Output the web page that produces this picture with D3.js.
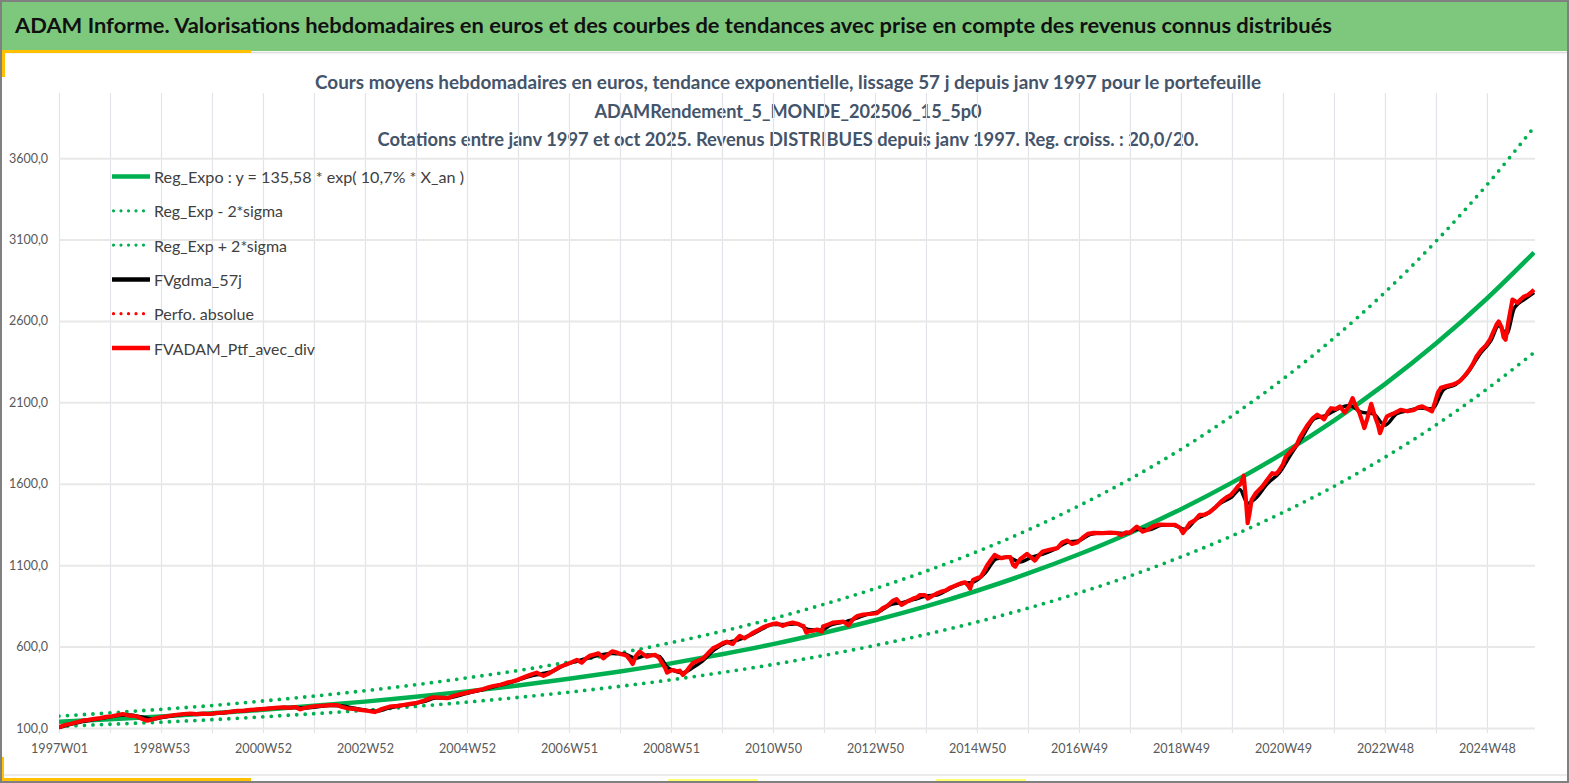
<!DOCTYPE html>
<html>
<head>
<meta charset="utf-8">
<script src="https://cdn.jsdelivr.net/npm/d3@7"></script>
<style>
  body { margin: 0; background: #fff; }
  svg { display: block; font-family: Lato, "Open Sans", sans-serif; }
</style>
</head>
<body>
<svg id="chart" width="1569" height="783"></svg>
<script>
// ---- textes
const titre = "ADAM Informe. Valorisations hebdomadaires en euros et des courbes de tendances avec prise en compte des revenus connus distribués";
const sousTitres = [
  "Cours moyens hebdomadaires  en euros, tendance exponentielle, lissage 57 j depuis janv 1997 pour le portefeuille",
  "ADAMRendement_5_MONDE_202506_15_5p0",
  "Cotations  entre janv 1997 et oct 2025. Revenus DISTRIBUES depuis janv 1997. Reg. croiss. : 20,0/20."
];
const legendeLabels = [
  "Reg_Expo : y = 135,58 * exp( 10,7% *  X_an )",
  "Reg_Exp - 2*sigma",
  "Reg_Exp + 2*sigma",
  "FVgdma_57j",
  "Perfo. absolue",
  "FVADAM_Ptf_avec_div"
];

// ---- axes
const xTickLabels = ["1997W01","1998W53","2000W52","2002W52","2004W52","2006W51","2008W51",
  "2010W50","2012W50","2014W50","2016W49","2018W49","2020W49","2022W48","2024W48"];
const yTicks = [100, 600, 1100, 1600, 2100, 2600, 3100, 3600];

// ---- courbes de tendance (index de semaine, valeurs lues)
const semainesTendance = [0,52,104,156,208,260,312,364,416,468,520,572,624,676,728,780,832,884,
  936,988,1040,1092,1144,1196,1248,1300,1352,1404,1456,1504];
const regExpo = [138,154,171,190,212,236,262,292,325,361,402,447,497,553,615,685,762,847,
  943,1049,1167,1298,1444,1607,1787,1988,2212,2461,2738,3020];
const regExpMoins = [110,123,136,151,169,188,209,233,259,288,320,356,396,441,490,546,607,675,
  751,836,930,1034,1151,1280,1424,1584,1763,1961,2182,2406];
const regExpPlus = [173,193,215,238,266,296,329,366,408,453,505,561,624,694,772,860,956,1063,
  1183,1316,1465,1629,1812,2017,2243,2495,2776,3089,3436,3790];

// ---- FVADAM_Ptf_avec_div : [semaine, valeur]
const fvAdam = [[0,105],[6,118],[12,126],[18,135],[24,145],[30,150],[36,156],[42,161],[48,168],[54,172],
  [60,180],[65,186],[70,178],[75,175],[79,172],[84,158],[90,145],[96,155],[103,166],[110,172],[118,180],
  [127,186],[134,189],[140,185],[147,188],[154,186],[160,192],[168,194],[175,200],[182,205],[189,207],
  [195,211],[202,214],[210,218],[218,222],[224,226],[229,227],[235,224],[241,229],[246,215],[252,226],
  [258,231],[263,235],[270,238],[277,240],[283,241],[288,230],[294,221],[300,218],[307,211],[314,206],
  [320,200],[322,198],[330,218],[337,231],[345,236],[352,242],[358,248],[365,255],[372,268],[377,280],
  [381,289],[388,286],[396,283],[402,297],[409,308],[416,317],[424,328],[432,338],[438,350],[443,358],
  [450,366],[456,377],[462,386],[467,395],[474,412],[480,425],[487,440],[491,428],[494,420],[500,436],
  [505,455],[511,477],[518,492],[523,505],[528,518],[533,501],[537,525],[541,543],[546,552],[550,559],
  [555,528],[560,552],[564,571],[568,565],[572,555],[576,550],[579,543],[582,520],[585,493],[588,540],
  [592,569],[596,552],[599,538],[604,545],[608,549],[612,530],[615,498],[618,470],[620,440],[623,450],
  [626,456],[630,448],[633,452],[636,426],[640,450],[643,475],[646,498],[651,512],[657,528],[662,560],
  [667,590],[672,605],[677,622],[681,630],[684,622],[687,616],[690,640],[694,665],[699,651],[704,670],
  [708,686],[713,702],[718,719],[722,728],[727,738],[732,743],[735,735],[738,727],[743,740],[748,747],
  [753,740],[757,730],[759,727],[762,686],[765,695],[769,698],[773,705],[778,692],[779,723],[784,735],
  [789,747],[795,750],[800,753],[805,731],[810,770],[814,788],[820,797],[827,800],[834,805],[840,836],
  [845,852],[850,880],[854,891],[859,856],[863,870],[866,880],[871,895],[875,903],[878,917],[883,917],
  [886,895],[890,910],[895,926],[900,938],[904,945],[908,960],[912,970],[916,980],[920,990],[924,995],
  [927,975],[929,955],[932,1010],[936,1020],[940,1030],[943,1060],[946,1095],[950,1130],[954,1163],
  [958,1150],[961,1143],[966,1150],[970,1149],[973,1100],[975,1091],[978,1120],[980,1137],[984,1155],
  [987,1169],[991,1150],[995,1128],[999,1160],[1003,1184],[1010,1195],[1018,1205],[1023,1240],[1028,1251],
  [1033,1230],[1038,1239],[1044,1270],[1049,1292],[1055,1298],[1064,1297],[1072,1300],[1079,1297],
  [1083,1285],[1088,1302],[1092,1300],[1099,1337],[1105,1306],[1110,1318],[1116,1340],[1122,1350],
  [1130,1348],[1138,1348],[1143,1330],[1146,1297],[1150,1330],[1153,1358],[1158,1375],[1163,1409],
  [1168,1410],[1173,1425],[1180,1460],[1185,1491],[1190,1515],[1195,1532],[1199,1560],[1202,1583],
  [1205,1600],[1208,1649],[1210,1520],[1212,1358],[1214,1420],[1216,1501],[1220,1540],[1227,1583],
  [1232,1625],[1237,1665],[1241,1660],[1244,1681],[1248,1720],[1251,1767],[1256,1800],[1262,1839],
  [1265,1880],[1268,1911],[1273,1960],[1278,2000],[1283,2024],[1287,2010],[1290,1996],[1294,2040],
  [1297,2064],[1302,2060],[1306,2075],[1311,2038],[1315,2070],[1319,2126],[1322,2080],[1326,2034],
  [1329,1980],[1331,1942],[1334,2000],[1338,2091],[1342,2010],[1345,1960],[1347,1911],[1350,1960],
  [1354,2014],[1360,2030],[1368,2054],[1375,2045],[1382,2054],[1386,2070],[1390,2075],[1395,2060],
  [1400,2045],[1403,2100],[1406,2160],[1409,2189],[1415,2200],[1421,2209],[1425,2220],[1428,2229],
  [1433,2260],[1438,2300],[1442,2340],[1445,2378],[1450,2420],[1455,2450],[1459,2485],[1463,2540],
  [1466,2580],[1468,2597],[1471,2560],[1473,2500],[1475,2485],[1478,2600],[1482,2731],[1485,2720],
  [1487,2711],[1490,2730],[1494,2751],[1498,2760],[1501,2775],[1504,2792]];

// ---- FVgdma_57j (moyenne lissée) : [semaine, valeur]
const fvGdma = [[0,102],[12,122],[24,140],[36,152],[48,164],[60,176],[72,180],[84,168],[96,155],[108,168],
  [120,178],[132,186],[144,187],[156,188],[168,193],[180,203],[192,208],[204,215],[216,221],[228,226],
  [240,226],[252,223],[264,231],[276,238],[288,236],[300,223],[312,210],[324,203],[336,222],[348,236],
  [360,248],[372,262],[384,284],[396,285],[408,300],[420,320],[432,335],[444,355],[456,373],[468,393],
  [480,418],[492,432],[504,450],[516,488],[528,510],[540,530],[552,548],[564,558],[576,556],[588,528],
  [600,548],[612,540],[620,475],[628,450],[636,440],[646,470],[656,510],[668,580],[680,622],[692,640],
  [704,668],[716,705],[728,735],[740,735],[752,740],[764,705],[776,700],[788,735],[800,750],[812,772],
  [824,798],[836,815],[848,858],[860,870],[872,890],[884,910],[896,918],[908,955],[920,985],[932,995],
  [944,1050],[956,1140],[968,1148],[980,1120],[992,1150],[1004,1170],[1016,1200],[1028,1240],[1040,1250],
  [1052,1290],[1064,1297],[1076,1298],[1088,1295],[1100,1320],[1112,1318],[1124,1345],[1136,1346],
  [1148,1320],[1160,1385],[1172,1420],[1184,1480],[1196,1520],[1204,1565],[1212,1480],[1220,1510],
  [1232,1600],[1244,1665],[1256,1780],[1268,1890],[1280,2000],[1292,2020],[1304,2060],[1316,2080],
  [1328,2040],[1340,2030],[1352,1960],[1364,2030],[1376,2050],[1388,2065],[1400,2060],[1412,2180],
  [1424,2210],[1436,2280],[1448,2390],[1460,2480],[1468,2570],[1476,2520],[1484,2680],[1496,2740],
  [1504,2775]];

// ---- mise en page
const W = 1569, H = 783;
const plot = { left: 59, right: 1535, top: 93, bottom: 728 };
const VERT = "#00B050", ROUGE = "#FF0000", NOIR = "#000000";

const svg = d3.select("#chart");

const x = d3.scaleLinear().domain([0, 1505]).range([plot.left, plot.right]);
const y = d3.scaleLinear().domain([100, 4000]).range([plot.bottom, plot.top]);

// fond + bandeau titre
svg.append("rect").attr("width", W).attr("height", H).attr("fill", "#fff");
svg.append("rect").attr("x", 0).attr("y", 0).attr("width", W).attr("height", 51).attr("fill", "#7ec87e");
svg.append("line").attr("x1", 0).attr("x2", W).attr("y1", 52.5).attr("y2", 52.5)
  .attr("stroke", "#dcdcdc").attr("stroke-width", 1.5);
svg.append("line").attr("x1", 0).attr("x2", W).attr("y1", 775).attr("y2", 775)
  .attr("stroke", "#e4e4e4").attr("stroke-width", 1.5);

// accents jaunes
const jaune = svg.append("g").attr("fill", "#FFC000");
jaune.append("rect").attr("x", 0).attr("y", 50).attr("width", 251).attr("height", 3);
jaune.append("rect").attr("x", 0).attr("y", 50).attr("width", 5).attr("height", 27);
jaune.append("rect").attr("x", 0).attr("y", 757).attr("width", 4).attr("height", 26);
jaune.append("rect").attr("x", 0).attr("y", 778).attr("width", 251).attr("height", 5);
svg.append("rect").attr("x", 668).attr("y", 779).attr("width", 90).attr("height", 4).attr("fill", "#ffff70");
svg.append("rect").attr("x", 936).attr("y", 779).attr("width", 90).attr("height", 4).attr("fill", "#ffff70");

// cadre
svg.append("rect").attr("x", 1).attr("y", 1).attr("width", W - 2).attr("height", H - 2)
  .attr("fill", "none").attr("stroke", "#808080").attr("stroke-width", 2);

// titre
svg.append("text").attr("x", 15).attr("y", 33)
  .attr("font-size", 21).attr("font-weight", "bold").attr("fill", "#111")
  .attr("textLength", 1317).attr("lengthAdjust", "spacingAndGlyphs")
  .text(titre);

// sous-titres
const sousTitreLayout = [{ y: 88.5, w: 946 }, { y: 118, w: 387 }, { y: 146.3, w: 821 }];
svg.selectAll(".sous-titre").data(sousTitres).enter().append("text")
  .attr("class", "sous-titre")
  .attr("x", 788).attr("y", (d, i) => sousTitreLayout[i].y)
  .attr("text-anchor", "middle").attr("font-size", 18).attr("font-weight", "bold")
  .attr("fill", "#44546A")
  .attr("textLength", (d, i) => sousTitreLayout[i].w).attr("lengthAdjust", "spacingAndGlyphs")
  .text(d => d);

// grille verticale (une ligne par an)
const xGrid = svg.append("g").attr("transform", `translate(0,${plot.bottom + 5})`)
  .call(d3.axisBottom(x).tickValues(d3.range(0, 1505, 52)).tickSize(-(plot.bottom + 5 - plot.top)).tickFormat(""));
xGrid.select(".domain").remove();
xGrid.selectAll("line").attr("stroke", "#e1e5ea").attr("stroke-width", 1.2);

// grille horizontale + libellés Y
const fr = d3.formatLocale({ decimal: ",", thousands: "", grouping: [3], currency: ["", " €"] });
const yAxis = svg.append("g").attr("transform", `translate(${plot.left},0)`)
  .call(d3.axisLeft(y).tickValues(yTicks).tickSize(-(plot.right - plot.left)).tickPadding(11)
    .tickFormat(fr.format(".1f")));
yAxis.select(".domain").remove();
yAxis.selectAll("line").attr("stroke", "#e8e8e8").attr("stroke-width", 2);
yAxis.selectAll("text").attr("font-family", "Lato, sans-serif").attr("font-size", 12.5).attr("fill", "#595959");

// libellés X (tous les 2 ans = 104 semaines)
const xAxis = svg.append("g").attr("transform", `translate(0,${plot.bottom})`)
  .call(d3.axisBottom(x).tickValues(xTickLabels.map((d, i) => i * 104)).tickSize(0).tickPadding(15)
    .tickFormat((d, i) => xTickLabels[i]));
xAxis.select(".domain").remove();
xAxis.selectAll("text").attr("font-family", "Lato, sans-serif").attr("font-size", 14).attr("fill", "#595959")
  .attr("textLength", 57).attr("lengthAdjust", "spacingAndGlyphs");

// séries
svg.append("clipPath").attr("id", "clip").append("rect")
  .attr("x", plot.left).attr("y", plot.top).attr("width", plot.right - plot.left).attr("height", plot.bottom - plot.top + 4);
const series = svg.append("g").attr("clip-path", "url(#clip)");

const lisse = d3.line().x((d, i) => x(semainesTendance[i])).y(d => y(d)).curve(d3.curveMonotoneX);
const brut = d3.line().x(d => x(d[0])).y(d => y(d[1]));

series.append("path").datum(regExpo).attr("d", lisse)
  .attr("fill", "none").attr("stroke", VERT).attr("stroke-width", 4.5);
[regExpMoins, regExpPlus].forEach(s => {
  series.append("path").datum(s).attr("d", lisse)
    .attr("fill", "none").attr("stroke", VERT).attr("stroke-width", 3.8)
    .attr("stroke-linecap", "round").attr("stroke-dasharray", "0 8.5");
});
series.append("path").datum(fvGdma).attr("d", brut.curve(d3.curveMonotoneX))
  .attr("fill", "none").attr("stroke", NOIR).attr("stroke-width", 3.5).attr("stroke-linejoin", "round");
series.append("path").datum(fvAdam).attr("d", d3.line().x(d => x(d[0])).y(d => y(d[1])))
  .attr("fill", "none").attr("stroke", ROUGE).attr("stroke-width", 4.2).attr("stroke-linejoin", "round");

// légende
const legendeStyles = [
  { color: VERT, dash: null, w: 4.5, tw: 310 },
  { color: VERT, dash: "0 7.5", w: 3.2, tw: 129 },
  { color: VERT, dash: "0 7.5", w: 3.2, tw: 133 },
  { color: NOIR, dash: null, w: 4.5, tw: 88 },
  { color: ROUGE, dash: "0 7.5", w: 3.2, tw: 100 },
  { color: ROUGE, dash: null, w: 4.5, tw: 161 }
];
const leg = svg.selectAll(".leg").data(legendeLabels).enter().append("g")
  .attr("class", "leg").attr("transform", (d, i) => `translate(112,${176.5 + i * 34.3})`);
leg.append("line").attr("x1", (d, i) => legendeStyles[i].dash ? 1.5 : 0).attr("x2", 38)
  .attr("stroke", (d, i) => legendeStyles[i].color)
  .attr("stroke-width", (d, i) => legendeStyles[i].w)
  .attr("stroke-linecap", (d, i) => legendeStyles[i].dash ? "round" : "butt")
  .attr("stroke-dasharray", (d, i) => legendeStyles[i].dash);
leg.append("text").attr("x", 42).attr("y", 6.5)
  .attr("font-size", 16).attr("fill", "#404040")
  .attr("textLength", (d, i) => legendeStyles[i].tw).attr("lengthAdjust", "spacingAndGlyphs")
  .text(d => d);
</script>
</body>
</html>
